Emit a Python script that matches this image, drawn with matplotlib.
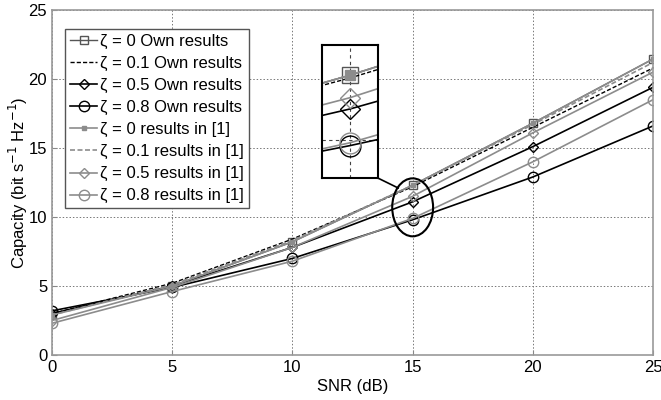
import numpy as np
import matplotlib
matplotlib.use("Agg")
import matplotlib.pyplot as plt
from matplotlib.patches import Ellipse

plt.rcParams['font.family'] = ['Liberation Sans', 'DejaVu Sans']

# data
snr = [0, 5, 10, 15, 20, 25]
z0_own = [3.0, 5.0, 8.2, 12.3, 16.8, 21.45]
z01_own = [3.0, 5.2, 8.4, 12.2, 16.5, 20.8]
z05_own = [3.0, 5.0, 7.8, 11.1, 15.1, 19.4]
z08_own = [3.2, 4.9, 7.0, 9.8, 12.9, 16.6]
z0_ref = [2.9, 5.0, 8.2, 12.3, 16.8, 21.45]
z01_ref = [2.9, 5.1, 8.3, 12.3, 16.7, 21.2]
z05_ref = [2.5, 4.9, 7.8, 11.5, 16.1, 20.5]
z08_ref = [2.3, 4.6, 6.8, 9.9, 14.0, 18.5]

labels = [u"\u03b6 = 0 Own results", u"\u03b6 = 0.1 Own results",
          u"\u03b6 = 0.5 Own results", u"\u03b6 = 0.8 Own results",
          u"\u03b6 = 0 results in [1]", u"\u03b6 = 0.1 results in [1]",
          u"\u03b6 = 0.5 results in [1]", u"\u03b6 = 0.8 results in [1]"]

gray = '#8c8c8c'


def draw(ax, ms=1.0):
    ax.plot(snr, z0_own, color='#555555', lw=1, marker='s', ms=6*ms, mfc='none', label=labels[0])
    ax.plot(snr, z01_own, color='black', lw=1, ls='--', dashes=(3, 1.5), label=labels[1])
    ax.plot(snr, z05_own, color='black', lw=1.2, marker='D', ms=5*ms, mfc='none', label=labels[2])
    ax.plot(snr, z08_own, color='black', lw=1.2, marker='o', ms=7.5*ms, mfc='none', label=labels[3])
    ax.plot(snr, z0_ref, color=gray, lw=1.2, marker='s', ms=3.5*ms, mfc=gray, label=labels[4])
    ax.plot(snr, z01_ref, color=gray, lw=1.2, ls='--', dashes=(3, 1.5), label=labels[5])
    ax.plot(snr, z05_ref, color=gray, lw=1.2, marker='D', ms=5*ms, mfc='none', label=labels[6])
    ax.plot(snr, z08_ref, color=gray, lw=1.2, marker='o', ms=7.5*ms, mfc='none', label=labels[7])


fig = plt.figure(figsize=(6.61, 4), dpi=100)
ax = fig.add_axes([0.0787, 0.1125, 0.9093, 0.8625])
draw(ax)
ax.set_xlim(0, 25)
ax.set_ylim(0, 25)
ax.set_xticks(snr)
ax.set_yticks([0, 5, 10, 15, 20, 25])
ax.grid(True, ls=(0, (1.5, 2)), color='#777777', lw=0.7)
ax.tick_params(direction='in', labelsize=12, color='#888888')
for s in ax.spines.values():
    s.set_color('#999999')
    s.set_linewidth(1.2)
ax.set_xlabel('SNR (dB)', fontsize=12, labelpad=3)
ax.set_ylabel('Capacity (bit s$^{-1}$ Hz$^{-1}$)', fontsize=12)
ax.yaxis.set_label_coords(-0.036, 0.5)

leg = ax.legend(loc='upper left', bbox_to_anchor=(0.022, 0.945), fontsize=12,
                handlelength=1.6, handletextpad=0.2, labelspacing=0.42,
                borderpad=0.3, borderaxespad=0.0, fancybox=False, framealpha=1)
leg.get_frame().set_edgecolor('#555555')

# circled region and zoomed inset
ax.add_patch(Ellipse((15, 10.7), 1.7, 4.2, fill=False, color='black', lw=1.5, zorder=5))
ax.plot([13.58, 14.4], [12.8, 12.1], color='black', lw=1.2, zorder=5)

ins = fig.add_axes([322/661, 1-178/400, 56/661, 133/400])
draw(ins, ms=2.0)
ins.set_xlim(14.65, 15.35)
ins.set_ylim(8.65, 13.37)
ins.set_xticks([15])
ins.set_yticks([10])
ins.grid(True, ls=(0, (3, 3)), color='#444444', lw=0.8)
ins.tick_params(length=0, labelbottom=False, labelleft=False)
for s in ins.spines.values():
    s.set_color('black')
    s.set_linewidth(1.5)

fig.savefig('out.png', dpi=100)
